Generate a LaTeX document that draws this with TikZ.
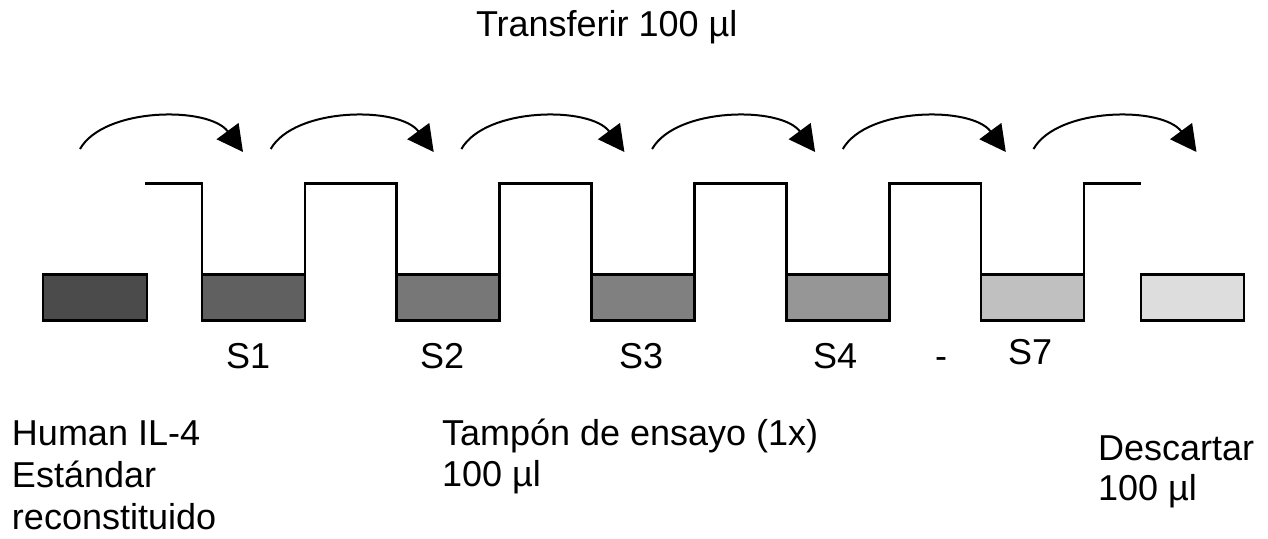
\documentclass[tikz,border=0pt]{standalone}
\usepackage{fontspec}
\setmainfont{Liberation Sans}
\usetikzlibrary{arrows.meta,calc}
\begin{document}
\begin{tikzpicture}[x=1pt,y=-1pt,
  txt/.style={inner sep=0pt,outer sep=0pt,anchor=base west,align=left,font=\fontsize{36}{41}\selectfont},
  tube/.style={draw=black,line width=2.6pt,minimum width=103pt,minimum height=46pt,inner sep=0pt,outer sep=0pt},
  stepline/.style={draw=black,line width=2.3pt,line join=miter},
  transfer/.style={draw=black,line width=2pt,-{Triangle[length=26pt,width=27pt]}}]
\useasboundingbox (0,0) rectangle (1268,538);
% tubes
\definecolor{g0}{HTML}{4B4B4B}
\definecolor{g1}{HTML}{606060}
\definecolor{g2}{HTML}{777777}
\definecolor{g3}{HTML}{808080}
\definecolor{g4}{HTML}{969696}
\definecolor{g5}{HTML}{C0C0C0}
\definecolor{g6}{HTML}{DDDDDD}
\node[tube,fill=g0,minimum width=104pt] (b0) at (95,297.3) {};
\node[tube,fill=g1] (b1) at (253.5,297.3) {};
\node[tube,fill=g2] (b2) at (448,297.3) {};
\node[tube,fill=g3] (b3) at (643,297.3) {};
\node[tube,fill=g4] (b4) at (838,297.3) {};
\node[tube,fill=g5] (b5) at (1032.5,297.3) {};
\node[tube,fill=g6] (b6) at (1192.5,297.3) {};
% step line
\coordinate (s0) at (145,183.5);
\coordinate (s7) at (1141,183.5);
\draw[stepline] (s0) -| (b1.north west)
  (b1.north east) |- (s0 -| b2.north west) -- (b2.north west)
  (b2.north east) |- (s0 -| b3.north west) -- (b3.north west)
  (b3.north east) |- (s0 -| b4.north west) -- (b4.north west)
  (b4.north east) |- (s0 -| b5.north west) -- (b5.north west)
  (b5.north east) |- (s7);
% transfer arrows
\foreach \i in {0,...,5}{
  \pgfmathsetmacro{\dx}{190.7*\i}
  \coordinate (a\i) at (80+\dx,149);
  \coordinate (e\i) at (243+\dx,152);
  \draw[transfer] (a\i) .. controls ($(a\i)+(24,-42)$) and ($(e\i)+(-34,-46)$) .. (e\i);
}
% labels
\node[txt] (title) at (476,36) {Transferir 100 µl};
\node[txt] (l1) at (226,368) {S1};
\node[txt] (l2) at (420,368) {S2};
\node[txt] (l3) at (619,368) {S3};
\node[txt] (l4) at (813,368) {S4};
\node[txt] (dash) at (935,368) {-};
\node[txt] (l7) at (1008,364) {S7};
\node[txt,font=\fontsize{36}{42}\selectfont] (human) at (12,529) {Human IL-4\\Estándar\\reconstituido};
\node[txt,font=\fontsize{36}{41}\selectfont] (buffer) at (442,486) {Tampón de ensayo (1x)\\100 µl};
\node[txt,font=\fontsize{36}{40}\selectfont] (discard) at (1098,500) {Descartar\\100 µl};
\end{tikzpicture}
\end{document}
